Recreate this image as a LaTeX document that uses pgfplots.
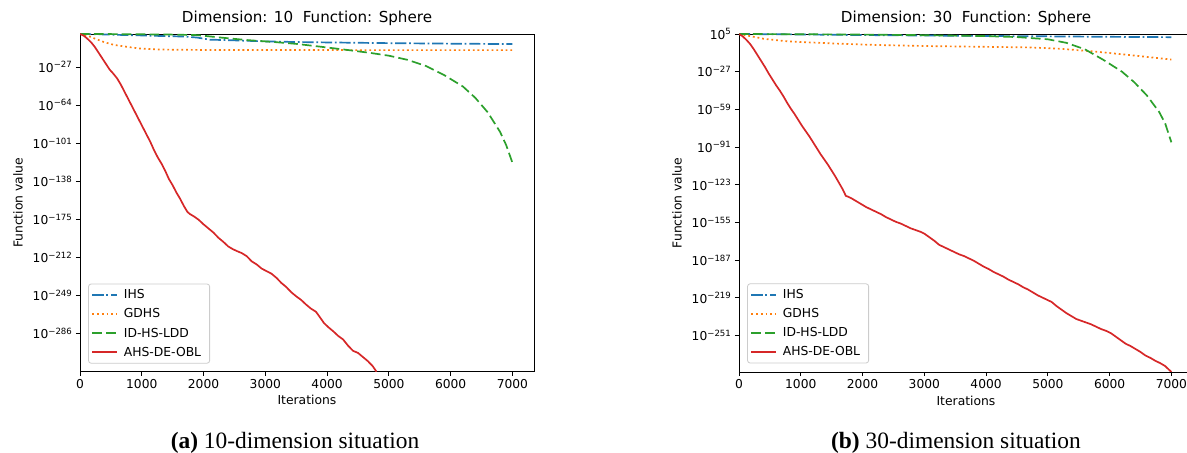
\documentclass[border=0pt]{standalone}
\usepackage{fontspec}
\setmainfont{DejaVu Sans}
\newfontfamily\capfont{Liberation Serif}
\usepackage{pgfplots}
\pgfplotsset{compat=1.18}
\definecolor{cA}{HTML}{1F77B4}
\definecolor{cB}{HTML}{FF7F0E}
\definecolor{cC}{HTML}{2CA02C}
\definecolor{cD}{HTML}{D62728}
\newcommand{\tp}[1]{10\textsuperscript{#1}}
\pgfplotsset{
  mystyle/.style={
    scale only axis, width=454bp,
    xmin=0, xmax=7350,
    axis line style={line width=0.9bp, black},
    tick style={line width=0.9bp, black},
    tick align=outside, major tick length=4.1bp,
    xtick pos=bottom, ytick pos=left,
    xtick={0,1000,2000,3000,4000,5000,6000,7000},
    xticklabels={0,1000,2000,3000,4000,5000,6000,7000},
    ticklabel style={font=\fontsize{12.3}{14}\selectfont},
    label style={font=\fontsize{12.4}{14}\selectfont},
    title style={font=\fontsize{15.2}{17}\selectfont, yshift=-1.5bp},
    xlabel={Iterations}, ylabel={Function value},
    ylabel shift=3bp,
    legend cell align=left,
    legend style={at={(0.018,0.024)}, anchor=south west,
      draw=black!20, line width=0.8bp, rounded corners=2.5bp, fill=white, fill opacity=0.8, text opacity=1,
      font=\fontsize{12.4}{14}\selectfont, inner xsep=3bp, inner ysep=2bp,
      row sep=1.5bp, nodes={inner xsep=5.5bp, inner ysep=3.5bp}},
    legend image code/.code={\draw[#1, line width=1.8bp] (0bp,0bp) -- (25bp,0bp);},
  },
  sIHS/.style={cA, line width=1.7bp, dash pattern=on 11.2bp off 2.8bp on 1.75bp off 2.8bp},
  sGDHS/.style={cB, line width=1.7bp, dash pattern=on 1.8bp off 2.9bp},
  sLDD/.style={cC, line width=1.7bp, dash pattern=on 9.7bp off 4.2bp},
  sOBL/.style={cD, line width=1.7bp, line join=round},
}
\begin{document}
\begin{tikzpicture}
\useasboundingbox (0,0) rectangle (1187bp,453bp);
% ---------------- left: dimension 10 ----------------
\begin{axis}[mystyle, at={(80bp,81.3bp)}, anchor=south west, height=337.7bp,
  ymin=-323.3, ymax=5.1,
  ytick={-27,-64,-101,-138,-175,-212,-249,-286},
  yticklabels={\tp{−27},\tp{−64},\tp{−101},\tp{−138},\tp{−175},\tp{−212},\tp{−249},\tp{−286}},
  title={Dimension: 10\ \ Function: Sphere}]
\addplot[sIHS] coordinates {(0,5.1) (300,4.8) (600,4.3) (1000,3.7) (1400,3.0) (1700,2.6) (1900,1.6) (2100,-0.4) (2500,-1.1) (3000,-2.1) (3500,-2.7) (4000,-3.1) (5000,-3.8) (6000,-4.3) (7000,-4.7)};
\addlegendentry{IHS}
\addplot[sGDHS] coordinates {(0,5.1) (80,4.0) (160,2.5) (250,0.4) (400,-3.0) (550,-5.5) (750,-7.3) (950,-8.9) (1200,-9.8) (1500,-10.2) (2000,-10.4) (3000,-10.5) (5000,-10.6) (7000,-10.6)};
\addlegendentry{GDHS}
\addplot[sLDD] coordinates {(0,5.1) (500,5.0) (1000,4.8) (1500,4.5) (1900,4.0) (2300,1.5) (2700,-0.8) (3100,-2.5) (3500,-4.5) (3900,-7.3) (4300,-10.2) (4700,-13.3) (5000,-16) (5300,-20) (5600,-26) (5900,-35) (6200,-46) (6400,-57) (6600,-71) (6800,-90) (6900,-103) (7000,-120)};
\addlegendentry{ID-HS-LDD}
\addplot[sOBL] coordinates {(0,5.1) (60,3.5) (120,0.5) (180,-3) (240,-7.5) (300,-13) (360,-18.5) (420,-24) (480,-29.5) (540,-33.5) (600,-38) (660,-44) (720,-51) (780,-58) (840,-65) (900,-72) (960,-79) (1020,-86) (1080,-93) (1140,-100) (1200,-108) (1260,-115) (1320,-121) (1380,-128) (1440,-136) (1500,-142) (1560,-149) (1620,-155) (1680,-162) (1740,-168) (1780,-170) (1850,-172.5) (1920,-175.5) (2000,-180) (2080,-184) (2160,-188) (2240,-193) (2320,-197) (2400,-201.5) (2470,-204) (2540,-206) (2620,-208) (2700,-211) (2780,-216) (2860,-219) (2940,-223) (3020,-225.5) (3100,-228) (3180,-232) (3260,-237) (3340,-241) (3420,-246) (3500,-250) (3580,-253.5) (3660,-258) (3740,-262) (3820,-265) (3880,-270) (3950,-276) (4020,-280) (4100,-284) (4180,-288.5) (4260,-292) (4340,-298) (4420,-303) (4500,-305) (4580,-309) (4660,-313) (4740,-318) (4800,-323.3)};
\addlegendentry{AHS-DE-OBL}
\end{axis}
% ---------------- right: dimension 30 ----------------
\begin{axis}[mystyle, at={(739bp,81bp)}, anchor=south west, height=338bp,
  ymin=-282, ymax=5,
  legend style={at={(0.018,0.0255)}},
  ytick={5,-27,-59,-91,-123,-155,-187,-219,-251},
  yticklabels={\tp{5},\tp{−27},\tp{−59},\tp{−91},\tp{−123},\tp{−155},\tp{−187},\tp{−219},\tp{−251}},
  title={Dimension: 30\ \ Function: Sphere}]
\addplot[sIHS] coordinates {(0,5) (500,4.8) (1000,4.6) (2000,4.1) (3000,3.7) (4000,3.3) (5000,3.0) (6000,2.6) (7000,2.3)};
\addlegendentry{IHS}
\addplot[sGDHS] coordinates {(0,5) (200,3) (400,0.9) (800,-1.3) (1500,-3.0) (2200,-4.3) (3100,-5.3) (4000,-5.9) (4700,-6.4) (5200,-7.5) (5800,-10.1) (6400,-13.3) (7000,-16.7)};
\addlegendentry{GDHS}
\addplot[sLDD] coordinates {(0,5) (1000,4.8) (2000,4.5) (3000,4.0) (4000,3.2) (4500,2.4) (5000,0.5) (5300,-2.5) (5600,-8) (5900,-17) (6200,-27) (6400,-36) (6600,-47) (6800,-61) (6900,-71) (7000,-87)};
\addlegendentry{ID-HS-LDD}
\addplot[sOBL] coordinates {(0,5) (60,3) (120,0) (180,-3.5) (240,-8) (300,-13) (360,-18) (420,-23) (480,-28.5) (540,-33.5) (600,-38.5) (660,-43) (720,-48) (780,-53.5) (840,-58.5) (900,-63) (960,-68) (1020,-73) (1080,-77.5) (1140,-82) (1200,-87) (1260,-92) (1320,-97) (1380,-101.5) (1440,-106) (1500,-111) (1560,-116) (1620,-121.5) (1680,-127) (1730,-132.5) (1760,-133) (1820,-134.5) (1900,-137) (1980,-139.5) (2060,-142) (2140,-144) (2220,-146) (2300,-148) (2380,-150.5) (2460,-152.5) (2540,-154.5) (2620,-156) (2700,-158) (2780,-160) (2860,-161.5) (2940,-163) (3000,-164.5) (3080,-167.5) (3160,-170.5) (3240,-174) (3320,-176) (3400,-178) (3480,-180) (3560,-182) (3640,-183.5) (3720,-185.5) (3800,-187.5) (3880,-190) (3960,-192.5) (4040,-194.5) (4120,-197) (4200,-199) (4280,-201) (4360,-203.5) (4440,-205.5) (4520,-207.5) (4600,-210) (4680,-212) (4760,-214.5) (4840,-217) (4920,-219) (5000,-221) (5060,-222.5) (5140,-226) (5220,-229) (5300,-232) (5380,-234.5) (5460,-237) (5540,-238.5) (5620,-240) (5700,-241.5) (5780,-243.5) (5860,-245.5) (5940,-247) (6020,-249) (6100,-252) (6180,-255) (6260,-258) (6340,-260) (6420,-262.5) (6500,-265) (6580,-268) (6660,-270) (6740,-272.5) (6820,-274.5) (6900,-277) (6960,-280) (7000,-282)};
\addlegendentry{AHS-DE-OBL}
\end{axis}
\node[anchor=base] at (295bp,5bp) {\capfont\fontsize{23.5}{25}\selectfont\textbf{(a)} 10-dimension situation};
\node[anchor=base] at (956bp,5bp) {\capfont\fontsize{23.5}{25}\selectfont\textbf{(b)} 30-dimension situation};
\end{tikzpicture}
\end{document}
